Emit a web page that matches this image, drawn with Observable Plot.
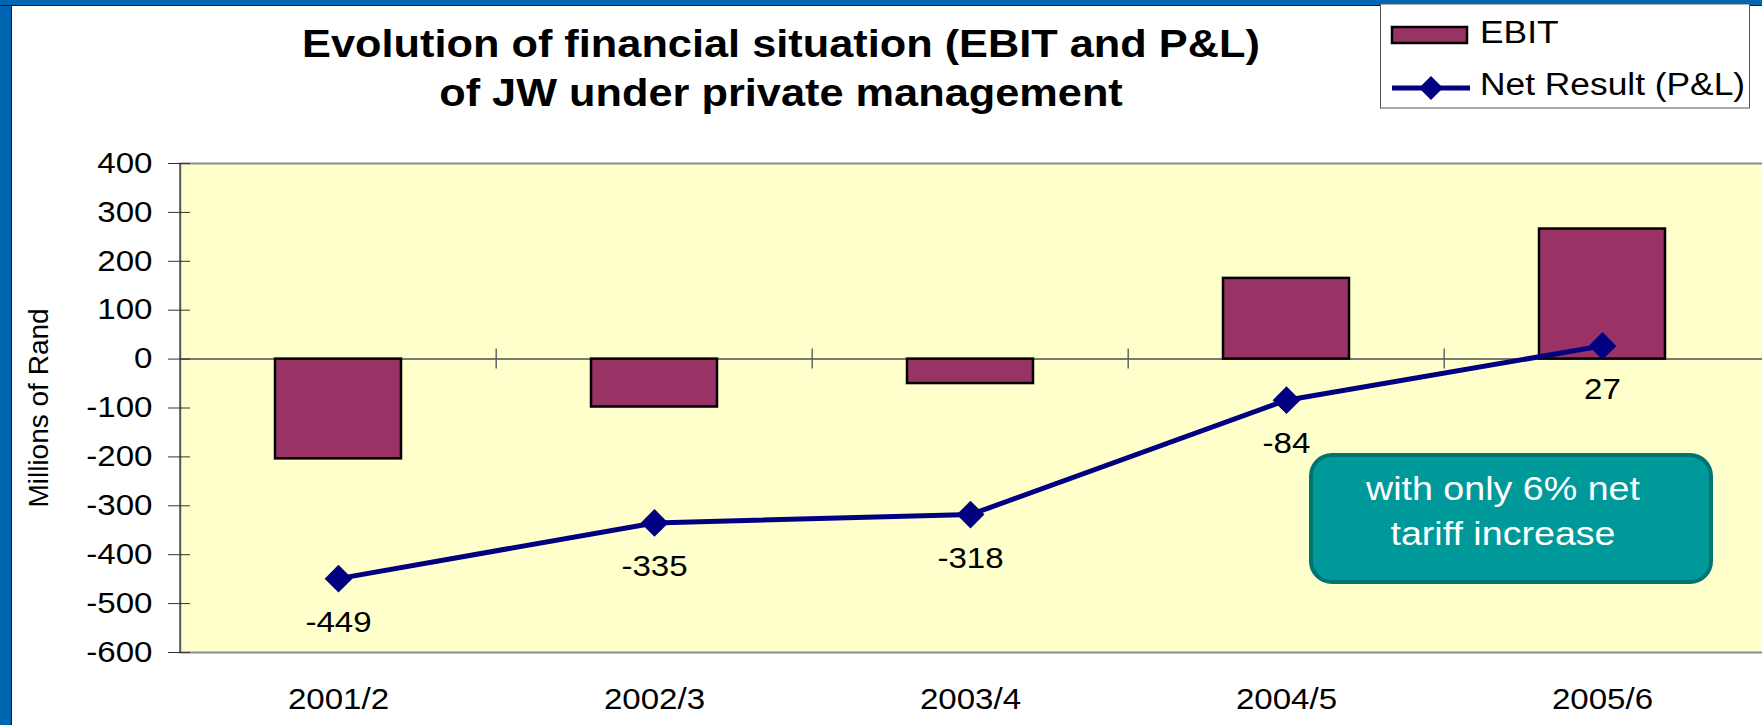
<!DOCTYPE html>
<html>
<head>
<meta charset="utf-8">
<script src="https://cdn.jsdelivr.net/npm/d3@7"></script>
<script src="https://cdn.jsdelivr.net/npm/@observablehq/plot@0.6"></script>
<style>
html, body { margin: 0; padding: 0; background: #fff; }
#page { position: relative; width: 1762px; height: 725px; overflow: hidden; background: #fff;
  font-family: "Liberation Sans", Arial, sans-serif; color: #000; }
#blueL { position: absolute; left: 0; top: 0; width: 11px; height: 725px; background: #0066b2; border-right: 1.5px solid #1b1b1b; }
#blueT { position: absolute; left: 0; top: 0; width: 1762px; height: 5px; background: #0066b2; border-bottom: 1.5px solid #1b1b1b; }
#chart { position: absolute; left: 0; top: 0; }
#overlay { position: absolute; left: 0; top: 0; }
</style>
</head>
<body>
<div id="page">
  <div id="chart"></div>
  <div id="blueL"></div>
  <div id="blueT"></div>
  <svg id="overlay" width="1762" height="725"></svg>
</div>
<script>
// ---- data ----
const titleLines = ["Evolution of financial situation (EBIT and P&L)", "of JW under private management"];
const categories = ["2001/2", "2002/3", "2003/4", "2004/5", "2005/6"];
const ebit = [-204, -98, -50, 165, 266];
const netResult = [-449, -335, -318, -84, 27];
const yTicks = [-600, -500, -400, -300, -200, -100, 0, 100, 200, 300, 400];
const seriesNames = ["EBIT", "Net Result (P&L)"];
const yLabel = "Millions of Rand";
const noteLines = ["with only 6% net", "tariff increase"];

const colors = { bar: "#993366", line: "#000080", plotBg: "#ffffcc", note: "#009999", noteEdge: "#007373" };
const FONT = "'Liberation Sans', Arial, sans-serif";
const STRETCH = 1.14; // the reference's lettering is horizontally widened

const data = categories.map((c, i) => ({ year: c, ebit: ebit[i], net: netResult[i] }));

// ---- layout ----
const W = 1762, H = 725, mL = 179, mR = 0, mT = 163, mB = 73;
const step = (W - mL - mR) / categories.length;

const chart = Plot.plot({
  width: W, height: H,
  marginLeft: mL, marginRight: mR, marginTop: mT, marginBottom: mB,
  style: { background: "none", fontFamily: FONT, fontSize: "29px", color: "#000", overflow: "visible" },
  x: { type: "band", domain: categories, paddingInner: 0.6, paddingOuter: 0.3, align: 0.5, label: null },
  y: { domain: [-600, 400], label: null },
  marks: [
    Plot.frame({ fill: colors.plotBg }),
    Plot.ruleY([400, -600], { stroke: "#8c8c8c", strokeWidth: 2 }),
    Plot.ruleY([0], { stroke: "#7a7a70", strokeWidth: 2 }),
    Plot.ruleX([categories[0]], { dx: -step / 2, stroke: "#555", strokeWidth: 2 }),
    Plot.axisY({ ticks: yTicks, tickSize: 22, dx: 11, tickPadding: 16, tickFormat: d => String(d), stroke: "#333", fontSize: 29 }),
    Plot.axisX({ tickSize: 0, tickPadding: 36, fontSize: 29 }),
    Plot.ruleX(categories.slice(1), { dx: -step / 2, y1: 0, y2: 0, insetTop: -10, insetBottom: -10, stroke: "#666", strokeWidth: 1.5 }),
    Plot.barY(data, { x: "year", y: "ebit", fill: colors.bar, stroke: "#000", strokeWidth: 2.5 }),
    Plot.line(data, { x: "year", y: "net", stroke: colors.line, strokeWidth: 5 }),
    Plot.dot(data, { x: "year", y: "net", symbol: "diamond2", r: 12.5, fill: colors.line, stroke: "none" }),
    Plot.text(data, { x: "year", y: "net", text: d => String(d.net), dy: 44, fontSize: 29 }),
    Plot.text([yLabel], { frameAnchor: "left", textAnchor: "middle", rotate: -90, dx: -140, fontSize: 28 })
  ]
});
document.getElementById("chart").appendChild(chart);

// ---- overlay: title, legend, note ----
const ov = d3.select("#overlay").style("font-family", FONT);

// title
ov.append("g").selectAll("text").data(titleLines).join("text")
  .attr("x", 781).attr("y", (d, i) => 57 + i * 49)
  .attr("text-anchor", "middle").attr("font-weight", "bold").attr("font-size", 38)
  .text(d => d);

// legend
const lg = ov.append("g").attr("transform", "translate(1380,6)");
lg.append("rect").attr("x", 0.5).attr("y", -2).attr("width", 369).attr("height", 104)
  .attr("fill", "#fff").attr("stroke", "#555").attr("stroke-width", 1);
lg.append("rect").attr("x", 12).attr("y", 21).attr("width", 75).attr("height", 16)
  .attr("fill", colors.bar).attr("stroke", "#000").attr("stroke-width", 2.5);
lg.append("line").attr("x1", 12).attr("x2", 90).attr("y1", 82).attr("y2", 82)
  .attr("stroke", colors.line).attr("stroke-width", 5);
lg.append("path").attr("d", "M51,70 L63,82 L51,94 L39,82Z").attr("fill", colors.line);
lg.selectAll("text.lab").data(seriesNames).join("text").attr("class", "lab")
  .attr("x", 100).attr("y", (d, i) => i === 0 ? 37 : 89)
  .attr("font-size", 31).text(d => d);

// note
const nt = ov.append("g");
nt.append("rect").attr("x", 1311).attr("y", 455).attr("width", 400).attr("height", 127).attr("rx", 21)
  .attr("fill", colors.note).attr("stroke", colors.noteEdge).attr("stroke-width", 4);
nt.selectAll("text").data(noteLines).join("text")
  .attr("x", 1503).attr("y", (d, i) => 500 + i * 45)
  .attr("text-anchor", "middle").attr("font-size", 33).attr("fill", "#fff")
  .text(d => d);

// widen lettering like the reference (text stays real text)
function stretchTexts(root) {
  root.querySelectorAll("text").forEach(t => {
    if (t.textContent === yLabel) return;
    const len = t.getComputedTextLength();
    if (len > 0) {
      t.setAttribute("textLength", (len * STRETCH).toFixed(1));
      t.setAttribute("lengthAdjust", "spacingAndGlyphs");
    }
  });
}
stretchTexts(chart);
stretchTexts(document.getElementById("overlay"));
</script>
</body>
</html>
